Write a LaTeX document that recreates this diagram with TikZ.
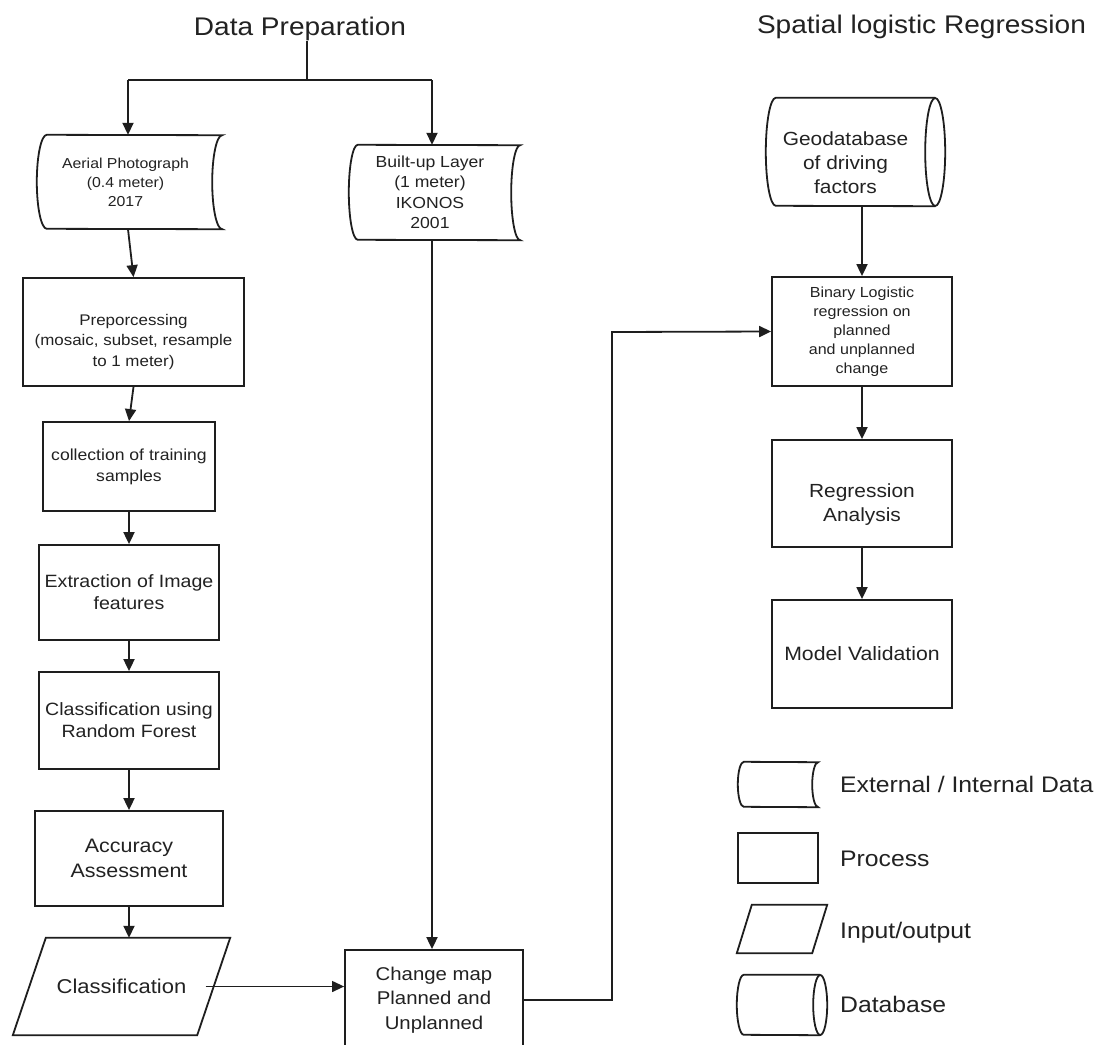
\documentclass[tikz,border=0pt]{standalone}
\usepackage{fontspec}
\setmainfont{Liberation Sans}[FakeStretch=1.1]
\usetikzlibrary{arrows.meta,calc}
\definecolor{ink}{HTML}{1E1E1E}
\definecolor{txt}{HTML}{222222}
\newcommand\fz[2]{\fontsize{#1}{#2}\selectfont}
\newcommand\drawstored[3]{\draw[shp] (#1.north west) arc[start angle=90,end angle=270,x radius=#2,y radius=#3] -- (#1.south east) arc[start angle=270,end angle=90,x radius=#2,y radius=#3] -- cycle;}
\newcommand\drawdb[3]{\draw[shp] (#1.north east) -- (#1.north west) arc[start angle=90,end angle=270,x radius=#2,y radius=#3] -- (#1.south east); \draw[shp] (#1.east) ellipse[x radius=#2,y radius=#3];}
\newcommand\drawpar[2]{\draw[shp] ([xshift=#2]#1.north west) -- ([xshift=#2]#1.north east) -- ([xshift=-#2]#1.south east) -- ([xshift=-#2]#1.south west) -- cycle;}
\begin{document}
\begin{tikzpicture}[x=1pt,y=-1pt,
  shp/.style={draw=ink,line width=1.8pt,line join=miter},
  box/.style={draw=ink,line width=1.8pt,inner sep=0pt,align=center,text=txt},
  free/.style={inner sep=0pt,align=center,text=txt},
  conn/.style={draw=ink,line width=1.8pt},
  arr/.style={conn,-{Triangle[length=12pt,width=11pt]}},
  ttl/.style={inner sep=1pt,text=txt,font=\fz{25.5}{30}}]
\useasboundingbox[fill=white] (0,0) rectangle (1096,1045);

% titles
\node[ttl,anchor=base] (t1) at (300,35) {Data Preparation};
\node[ttl,anchor=base] (t2) at (921.5,33) {Spatial logistic Regression};

% left data column
\node[free,minimum width=175pt,minimum height=94pt,
  label={[free,font=\fz{14.4}{19},xshift=-9pt]center:{Aerial Photograph\\(0.4 meter)\\2017}}] (aer) at (134.5,182) {};
\drawstored{aer}{10pt}{47pt}
\node[free,minimum width=162pt,minimum height=95pt,
  label={[free,font=\fz{16}{20.5},xshift=-9pt]center:{Built-up Layer\\(1 meter)\\IKONOS\\2001}}] (bul) at (439,192.5) {};
\drawstored{bul}{9pt}{47.5pt}

\node[box,minimum width=221pt,minimum height=108pt,
  label={[free,font=\fz{15.4}{20.5},yshift=-10pt]center:{Preporcessing\\(mosaic, subset, resample\\to 1 meter)}}] (pre) at (133.5,332) {};
\node[box,minimum width=172pt,minimum height=89pt,font=\fz{16}{21}] (col) at (129,466.5) {collection of training\\samples};
\node[box,minimum width=180pt,minimum height=95pt,font=\fz{17.8}{22}] (ext) at (129,592.5) {Extraction of Image\\features};
\node[box,minimum width=180pt,minimum height=97pt,font=\fz{17.8}{22}] (crf) at (129,720.5) {Classification using\\Random Forest};
\node[box,minimum width=188pt,minimum height=95pt,font=\fz{19.5}{25}] (acc) at (129,858.5) {Accuracy\\Assessment};
\node[free,minimum width=184pt,minimum height=97pt,font=\fz{20}{24}] (cls) at (121.5,986.5) {Classification};
\drawpar{cls}{16.5pt}
\node[box,minimum width=178pt,minimum height=100pt,font=\fz{18.5}{24.5}] (chg) at (434,1000) {Change map\\Planned and\\Unplanned};

% right column
\node[free,minimum width=159pt,minimum height=108pt,
  label={[free,font=\fz{19}{24},xshift=-10pt,yshift=-11pt]center:{Geodatabase\\of driving\\factors}}] (geo) at (855.5,152) {};
\drawdb{geo}{10pt}{54pt}
\node[box,minimum width=180pt,minimum height=109pt,font=\fz{14.6}{19}] (bin) at (862,331.5) {Binary Logistic\\regression on\\planned\\and unplanned\\change};
\node[box,minimum width=180pt,minimum height=107pt,
  label={[free,font=\fz{19}{24},yshift=-11pt]center:{Regression\\Analysis}}] (reg) at (862,493.5) {};
\node[box,minimum width=180pt,minimum height=108pt,font=\fz{19.3}{24}] (mv) at (862,654) {Model Validation};

% legend
\node[free,minimum width=74pt,minimum height=45pt] (lg1) at (781,784.5) {};
\drawstored{lg1}{6pt}{22.5pt}
\node[box,minimum width=80pt,minimum height=50pt] (lg2) at (778,858) {};
\node[free,minimum width=75pt,minimum height=48pt] (lg3) at (782,929) {};
\drawpar{lg3}{7.5pt}
\node[free,minimum width=76pt,minimum height=60pt] (lg4) at (782,1005) {};
\drawdb{lg4}{7pt}{30pt}
\node[free,anchor=base west,font=\fz{22.5}{27}] (l1) at (840,792) {External / Internal Data};
\node[free,anchor=base west,font=\fz{22.5}{27}] (l2) at (840,866) {Process};
\node[free,anchor=base west,font=\fz{22.5}{27}] (l3) at (840,938) {Input/output};
\node[free,anchor=base west,font=\fz{22.5}{27}] (l4) at (840,1012) {Database};

% connectors
\coordinate (split) at (307,80);
\coordinate (splitL) at (128,80);
\coordinate (splitR) at (432,80);
\draw[conn] (split |- t1.south) -- (split);
\draw[conn] (splitL) -- (splitR);
\draw[arr] (splitL) -- (splitL |- aer.north);
\draw[arr] (splitR) -- (splitR |- bul.north);
\draw[arr] (aer.south -| splitL) -- (pre.north);
\draw[arr] (pre.south) -- (col.north);
\draw[arr] (col) -- (ext);
\draw[arr] (ext) -- (crf);
\draw[arr] (crf) -- (acc);
\draw[arr] (acc.south) -- (acc.south |- cls.north);
\draw[arr] (bul.south -| splitR) -- (splitR |- chg.north);
\draw[arr,line width=1.3pt] ([xshift=-8pt]cls.east) -- (chg.west |- cls.east);
\coordinate (up) at (612,332);
\draw[arr] (chg.east) -| (up) -- (bin.west);
\draw[arr] (bin.north |- geo.south) -- (bin.north);
\draw[arr] (bin) -- (reg);
\draw[arr] (reg) -- (mv);
\end{tikzpicture}
\end{document}
